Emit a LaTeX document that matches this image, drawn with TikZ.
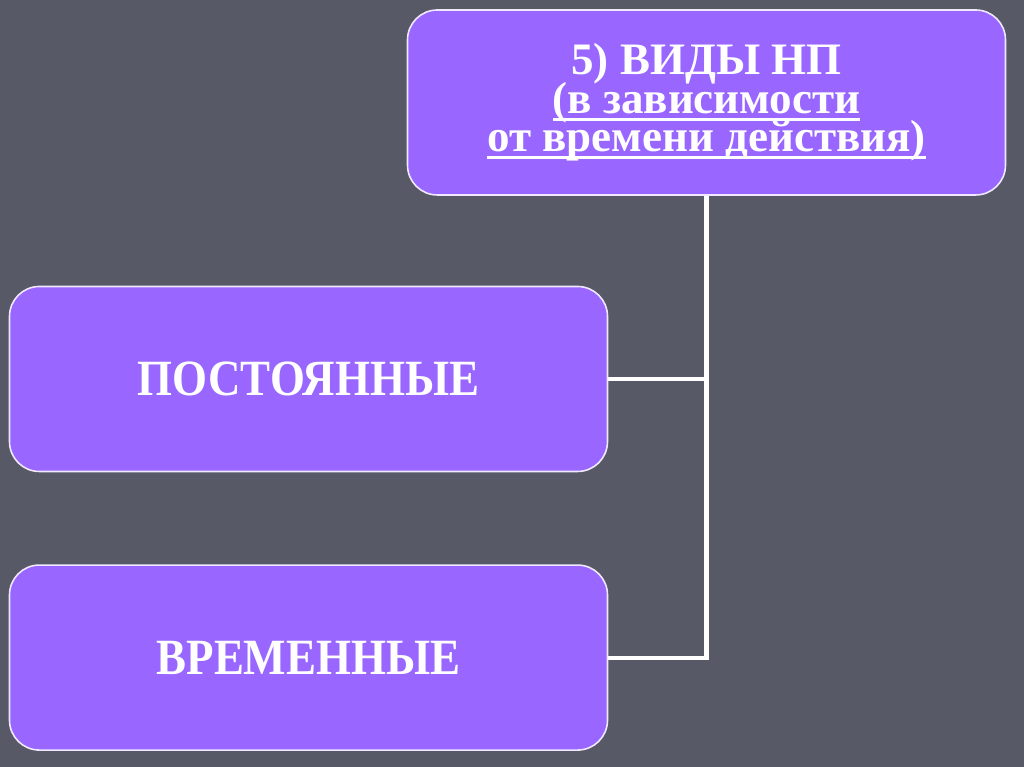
\documentclass[tikz,border=0pt]{standalone}
\usepackage{fontspec}
\setmainfont{Liberation Serif}
\newfontfamily\tallserif{Liberation Serif}[FakeStretch=0.885]
\usepackage{tikz}
\usetikzlibrary{positioning, calc}

\definecolor{slidebg}{HTML}{575A66}
\definecolor{boxfill}{HTML}{9966FF}
\newcommand{\ulline}[1]{\setbox0\hbox{#1}\rlap{\raisebox{-4.2pt}[0pt][0pt]{\rule{\wd0}{1.7pt}}}\box0}

\begin{document}
\setlength{\lineskiplimit}{-30pt}
\begin{tikzpicture}[
  node distance=1.84cm,
  box/.style={rectangle, rounded corners=17pt, align=center, draw=white!85!boxfill,
              line width=0.9pt, fill=boxfill, text=white,
              minimum width=11.96cm, minimum height=3.7cm, inner sep=0pt,
              font=\fontsize{25.6}{21.9}\selectfont\bfseries},
  kindbox/.style={box, font=\tallserif\fontsize{28.9}{24}\selectfont\bfseries},
  conn/.style={draw=white, line width=2.3pt}
]
\fill[slidebg] (0,0) rectangle (20.48,15.34);
\useasboundingbox (0,0) rectangle (20.48,15.34);

\node[box] (kinds) at (14.13,13.29)
  {5) ВИДЫ НП\\\ulline{(в зависимости}\\\ulline{от времени действия)}};
\node[kindbox] (perm) at (6.17,7.76) {ПОСТОЯННЫЕ};
\node[kindbox, below=of perm] (temp) {ВРЕМЕННЫЕ};

\draw[conn] (kinds.south) -- (kinds.south |- temp.east) -- (temp.east);
\draw[conn] (perm.east) -- (perm.east -| kinds.south);
\end{tikzpicture}
\end{document}
